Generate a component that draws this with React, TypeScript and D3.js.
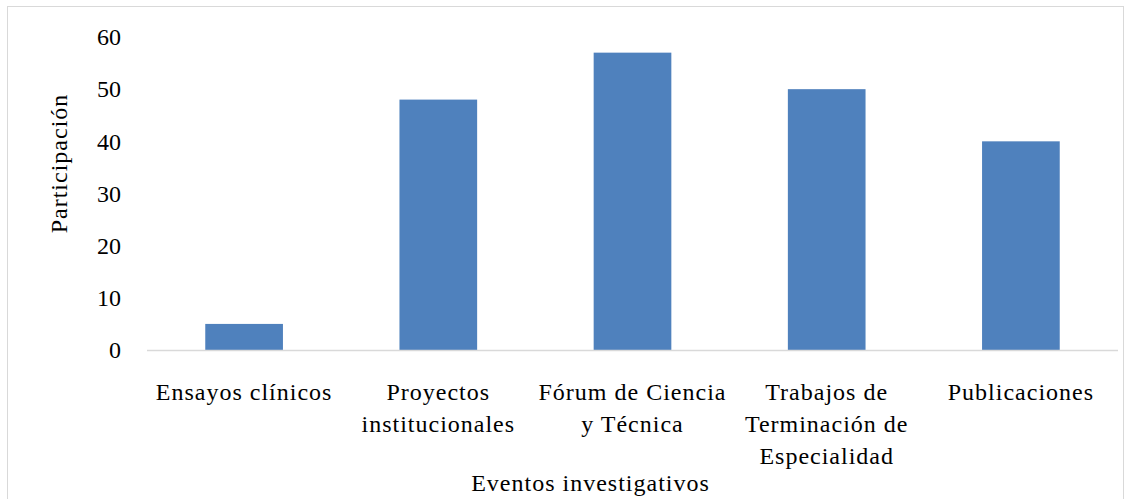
import React, { useRef, useEffect } from 'react'
import * as d3 from 'd3'

const categories = [
  ['Ensayos clínicos'],
  ['Proyectos', 'institucionales'],
  ['Fórum de Ciencia', 'y Técnica'],
  ['Trabajos de', 'Terminación de', 'Especialidad'],
  ['Publicaciones'],
]
const values = [5, 48, 57, 50, 40]
const yTicks = [0, 10, 20, 30, 40, 50, 60]
const xTitle = 'Eventos investigativos'
const yTitle = 'Participación'

export default function App() {
  const ref = useRef<SVGSVGElement>(null)
  const width = 1130
  const height = 499

  useEffect(() => {
    const svg = d3.select(ref.current)
    svg.selectAll('*').remove()

    const margin = { top: 37, right: 12, bottom: 149, left: 147 }
    const innerWidth = width - margin.left - margin.right
    const innerHeight = height - margin.top - margin.bottom
    const font = '"Liberation Serif", "Times New Roman", serif'

    // chart border
    svg.append('rect')
      .attr('x', 7.5).attr('y', 6.5)
      .attr('width', width - 14).attr('height', height)
      .attr('fill', '#fff').attr('stroke', '#d9d9d9')

    const g = svg.append('g')
      .attr('transform', `translate(${margin.left},${margin.top})`)

    const x = d3.scaleBand<number>()
      .domain(values.map((_, i) => i))
      .range([0, innerWidth])
      .paddingInner(0.6)
      .paddingOuter(0.3)

    const y = d3.scaleLinear().domain([0, 60]).range([innerHeight, 0])

    g.selectAll('rect.bar')
      .data(values)
      .join('rect')
      .attr('class', 'bar')
      .attr('x', (_, i) => x(i)!)
      .attr('y', d => y(d))
      .attr('width', x.bandwidth())
      .attr('height', d => innerHeight - y(d))
      .attr('fill', '#4f81bd')

    // x axis line
    g.append('line')
      .attr('x1', 0).attr('x2', innerWidth)
      .attr('y1', innerHeight + 0.5).attr('y2', innerHeight + 0.5)
      .attr('stroke', '#d9d9d9').attr('stroke-width', 1.5)

    const yAxis = d3.axisLeft(y).tickValues(yTicks).tickSize(0).tickPadding(26)
    const yAxisG = g.append('g').call(yAxis)
    yAxisG.select('.domain').remove()
    yAxisG.selectAll('text')
      .attr('font-family', font).attr('font-size', 24).attr('fill', '#000')

    // category labels
    categories.forEach((lines, i) => {
      const cx = x(i)! + x.bandwidth() / 2
      const t = g.append('text')
        .attr('x', cx)
        .attr('y', innerHeight + 50)
        .attr('text-anchor', 'middle')
        .attr('font-family', font).attr('font-size', 24)
        .attr('letter-spacing', 1).attr('fill', '#000')
      lines.forEach((ln, j) => {
        t.append('tspan').attr('x', cx).attr('dy', j === 0 ? 0 : 32).text(ln)
      })
    })

    g.append('text')
      .attr('x', innerWidth / 2 - 42)
      .attr('y', innerHeight + 141)
      .attr('text-anchor', 'middle')
      .attr('font-family', font).attr('font-size', 24)
      .attr('letter-spacing', 1).attr('fill', '#000')
      .text(xTitle)

    g.append('text')
      .attr('transform', `translate(${-80},${innerHeight / 2 - 30}) rotate(-90)`)
      .attr('text-anchor', 'middle')
      .attr('font-family', font).attr('font-size', 24)
      .attr('letter-spacing', 1).attr('fill', '#000')
      .text(yTitle)
  }, [])

  return (
    <svg ref={ref} width={width} height={height}
      style={{ position: 'absolute', left: 0, top: 0 }} />
  )
}
